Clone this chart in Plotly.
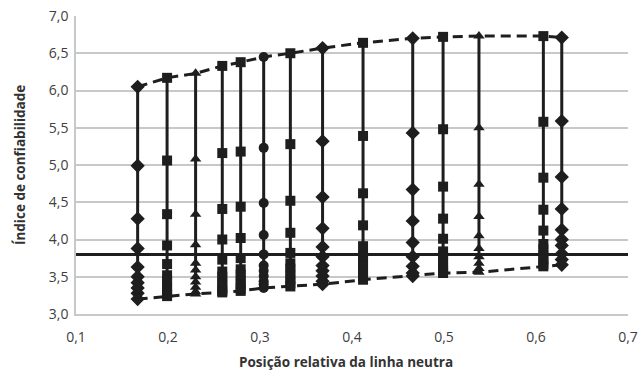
import plotly.graph_objects as go

# Column positions (relative neutral axis position)
x_pos = [0.167, 0.199, 0.230, 0.259, 0.279, 0.304, 0.333, 0.368, 0.412, 0.466, 0.499, 0.538, 0.608, 0.628]
symbols = ["diamond", "square", "triangle-up", "square", "square", "circle", "square",
           "diamond", "square", "diamond", "square", "triangle-up", "square", "diamond"]

# Reliability indices for each column (top to bottom)
col_values = [
    [6.05, 4.99, 4.28, 3.88, 3.63, 3.50, 3.42, 3.35, 3.28, 3.20],
    [6.17, 5.06, 4.34, 3.92, 3.67, 3.52, 3.45, 3.38, 3.32, 3.27, 3.24],
    [6.23, 5.08, 4.34, 3.93, 3.68, 3.59, 3.50, 3.43, 3.36, 3.30, 3.27],
    [6.33, 5.16, 4.41, 4.00, 3.73, 3.57, 3.50, 3.43, 3.37, 3.31, 3.29],
    [6.38, 5.18, 4.44, 4.02, 3.75, 3.60, 3.53, 3.46, 3.40, 3.34, 3.31],
    [6.45, 5.23, 4.49, 4.06, 3.80, 3.65, 3.58, 3.51, 3.44, 3.40, 3.35],
    [6.50, 5.28, 4.52, 4.09, 3.82, 3.68, 3.61, 3.54, 3.47, 3.41, 3.37],
    [6.57, 5.32, 4.57, 4.15, 3.90, 3.77, 3.65, 3.58, 3.51, 3.44, 3.40],
    [6.64, 5.39, 4.62, 4.19, 3.91, 3.78, 3.71, 3.64, 3.57, 3.51, 3.46],
    [6.70, 5.43, 4.67, 4.25, 3.96, 3.77, 3.64, 3.55, 3.51],
    [6.72, 5.48, 4.71, 4.28, 4.01, 3.84, 3.77, 3.70, 3.63, 3.58, 3.55],
    [6.73, 5.50, 4.74, 4.31, 4.05, 3.88, 3.77, 3.68, 3.61, 3.56],
    [6.73, 5.58, 4.83, 4.40, 4.12, 3.94, 3.87, 3.80, 3.73, 3.67, 3.64],
    [6.71, 5.59, 4.84, 4.41, 4.13, 4.00, 3.92, 3.81, 3.73, 3.66],
]

target_beta = 3.8
x_ticks = [0.1, 0.2, 0.3, 0.4, 0.5, 0.6, 0.7]
y_ticks = [3.0, 3.5, 4.0, 4.5, 5.0, 5.5, 6.0, 6.5, 7.0]
x_title = "Posição relativa da linha neutra"
y_title = "Índice de confiabilidade"

ink = "#1e1e1e"
fig = go.Figure()

# target reliability line
fig.add_trace(go.Scatter(x=[x_ticks[0], x_ticks[-1]], y=[target_beta, target_beta], mode="lines",
                         line=dict(color=ink, width=3), hoverinfo="skip", showlegend=False))

# envelopes
tops = [max(v) for v in col_values]
bots = [min(v) for v in col_values]
for env in (tops, bots):
    fig.add_trace(go.Scatter(x=x_pos, y=env, mode="lines",
                             line=dict(color=ink, width=3, dash="10px,6px"), showlegend=False))

for xv, sym, vals in zip(x_pos, symbols, col_values):
    size = {"square": 10, "circle": 10, "diamond": 11, "triangle-up": 10}[sym]
    fig.add_trace(go.Scatter(x=[xv] * len(vals), y=vals, mode="lines+markers",
                             line=dict(color=ink, width=3),
                             marker=dict(symbol=sym, size=size, color=ink, line=dict(width=0)),
                             showlegend=False))

fig.update_layout(
    width=642, height=381,
    margin=dict(l=76, r=14, t=16, b=67),
    paper_bgcolor="white", plot_bgcolor="white",
    separators=", ",
    font=dict(family="Open Sans, Lato, sans-serif", size=14, color="#404040"),
    showlegend=False,
    annotations=[
        dict(text="<b>" + x_title + "</b>", xref="paper", yref="paper", x=0.49, y=-0.161,
             xanchor="center", yanchor="middle", showarrow=False,
             font=dict(size=13.5, color="#333333")),
        dict(text="<b>" + y_title + "</b>", xref="paper", yref="paper", x=-0.1014, y=0.5,
             xanchor="center", yanchor="middle", textangle=-90, showarrow=False,
             font=dict(size=13.5, color="#333333")),
    ],
)
fig.update_xaxes(range=[0.1, 0.7], tickvals=x_ticks, tickformat=".1f", showgrid=False,
                 showline=True, linecolor="#c8c8c8", linewidth=2,
                 ticks="outside", ticklen=9, tickcolor="rgba(0,0,0,0)", zeroline=False, automargin=False)
fig.update_yaxes(range=[3.0, 7.0], tickvals=y_ticks, tickformat=".1f", showgrid=True,
                 gridcolor="#c8c8c8", gridwidth=1.5, showline=True, linecolor="#c8c8c8", linewidth=1.5,
                 ticks="outside", ticklen=3, tickcolor="rgba(0,0,0,0)", zeroline=False, automargin=False)

fig.write_html("out.html")
